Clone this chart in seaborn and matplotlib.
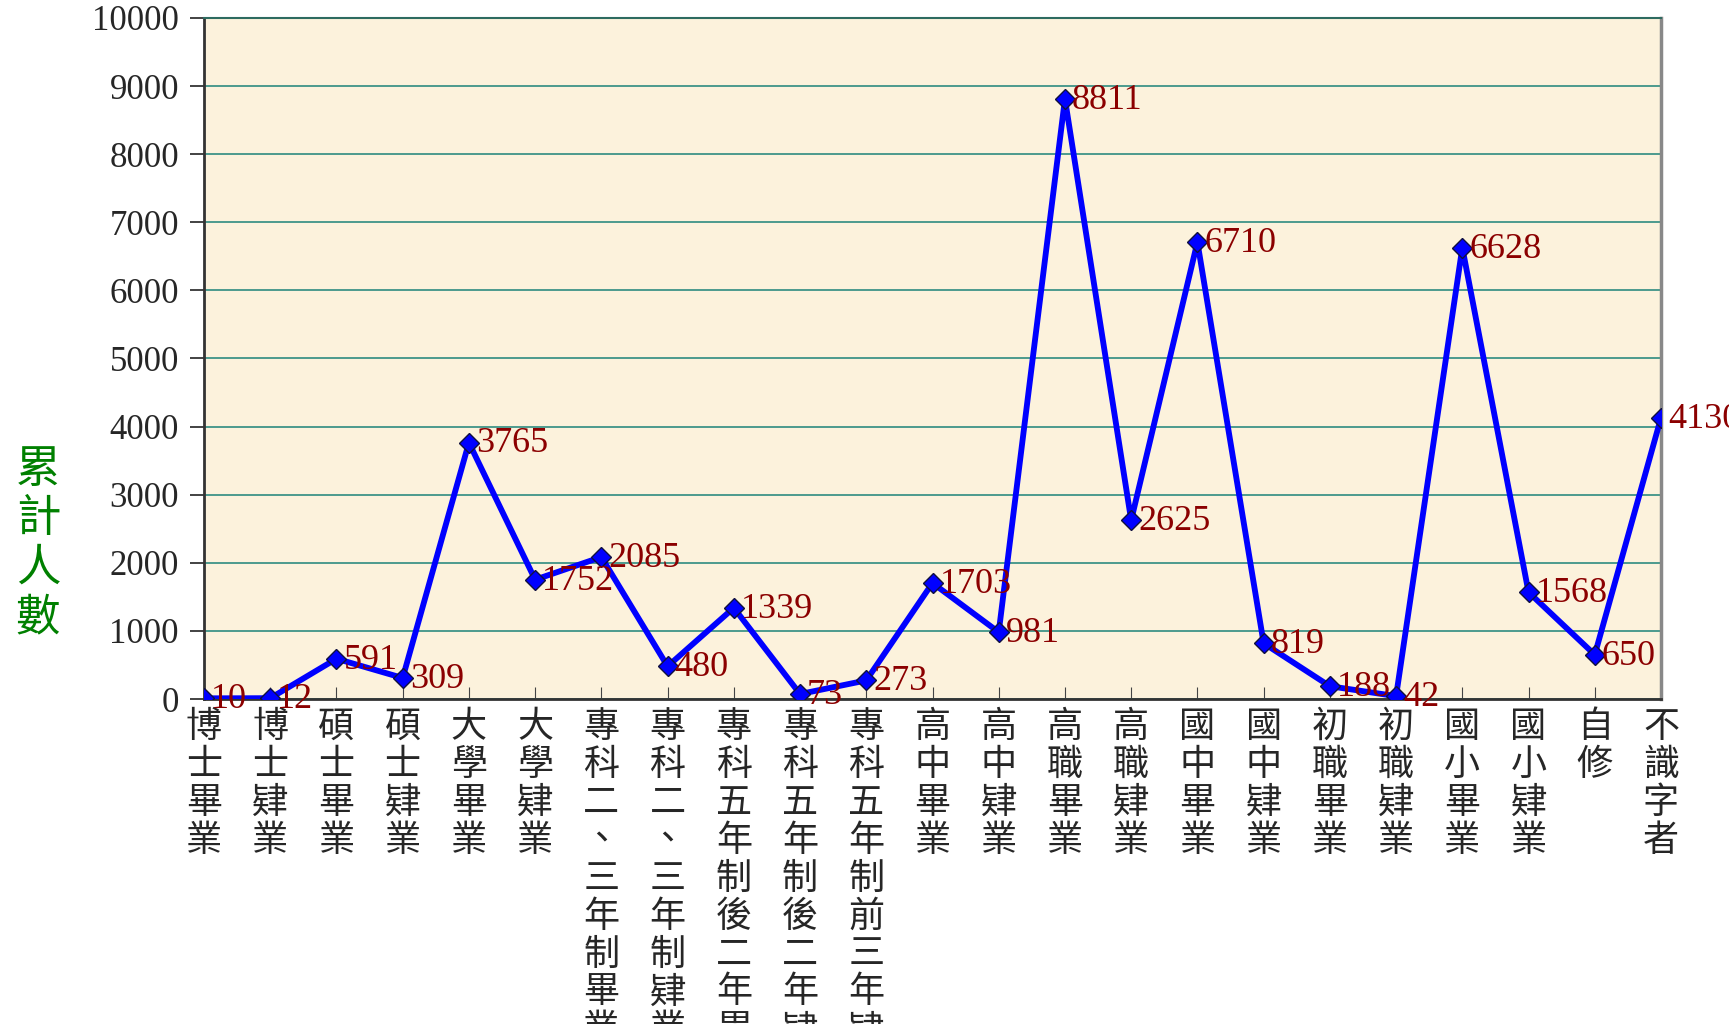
import numpy as np
import pandas as pd
import seaborn as sns
import matplotlib
matplotlib.use("Agg")
from matplotlib import pyplot as plt

# education levels and cumulative counts
categories = ['博士畢業', '博士肄業', '碩士畢業', '碩士肄業', '大學畢業', '大學肄業',
              '專科二、三年制畢業', '專科二、三年制肄業', '專科五年制後二年畢業',
              '專科五年制後二年肄業', '專科五年制前三年肄業', '高中畢業', '高中肄業',
              '高職畢業', '高職肄業', '國中畢業', '國中肄業', '初職畢業', '初職肄業',
              '國小畢業', '國小肄業', '自修', '不識字者']
counts = [10, 12, 591, 309, 3765, 1752, 2085, 480, 1339, 73, 273, 1703, 981,
          8811, 2625, 6710, 819, 188, 42, 6628, 1568, 650, 4130]
y_ticks = list(range(0, 10001, 1000))
y_label = '累計人數'

df = pd.DataFrame({'pos': np.arange(len(categories)), 'count': counts})

sns.set_style("ticks")
plt.rcParams['font.family'] = ['Liberation Serif', 'Noto Sans CJK TC']

fig = plt.figure(figsize=(17.29, 10.24), dpi=100)
ax = fig.add_axes([204 / 1729, 1 - 699 / 1024, (1661 - 204) / 1729, (699 - 18) / 1024])
ax.set_facecolor('#FCF2DC')

sns.lineplot(data=df, x='pos', y='count', ax=ax, color='#0000FF', linewidth=4.2,
             marker='D', markersize=10, markerfacecolor='#0000FF',
             markeredgecolor='#101040', markeredgewidth=1, zorder=5)

for x, v in zip(df['pos'], df['count']):
    ax.annotate(str(v), (x, v), xytext=(5, -1), textcoords='offset points',
                va='center', ha='left', fontsize=26, color='#8B0000',
                family='Liberation Serif', annotation_clip=False, zorder=6)

ax.set_xlim(0, len(categories) - 1)
ax.set_ylim(0, 10000)
ax.set_yticks(y_ticks)
ax.set_yticklabels([str(t) for t in y_ticks], fontsize=25, family='Liberation Serif')
ax.yaxis.grid(True, color='#2E8B80', linewidth=1.2)
ax.set_axisbelow(True)

ax.set_xticks(df['pos'])
ax.set_xticklabels(['\n'.join(c) for c in categories], fontsize=26,
                   family='Noto Sans CJK TC', linespacing=1.07, va='top')
ax.tick_params(axis='x', direction='in', length=9, pad=7, color='#444444')
ax.tick_params(axis='y', direction='out', length=10, width=1.2, pad=8, color='#222222')
ax.set_xlabel('')
ax.set_ylabel('')

for s in ['left', 'bottom']:
    ax.spines[s].set_color('#333333')
    ax.spines[s].set_linewidth(2)
ax.spines['right'].set_visible(True)
ax.spines['right'].set_color('#888888')
ax.spines['right'].set_linewidth(2.5)
ax.spines['top'].set_visible(True)
ax.spines['top'].set_color('#2E6B60')
ax.spines['top'].set_linewidth(1.5)

fig.text(38 / 1729, 1 - 543 / 1024, '\n'.join(y_label), color='#008000', fontsize=32,
         family='Noto Sans CJK TC', ha='center', va='center', linespacing=1.1)

fig.savefig('out.png', dpi=100)
